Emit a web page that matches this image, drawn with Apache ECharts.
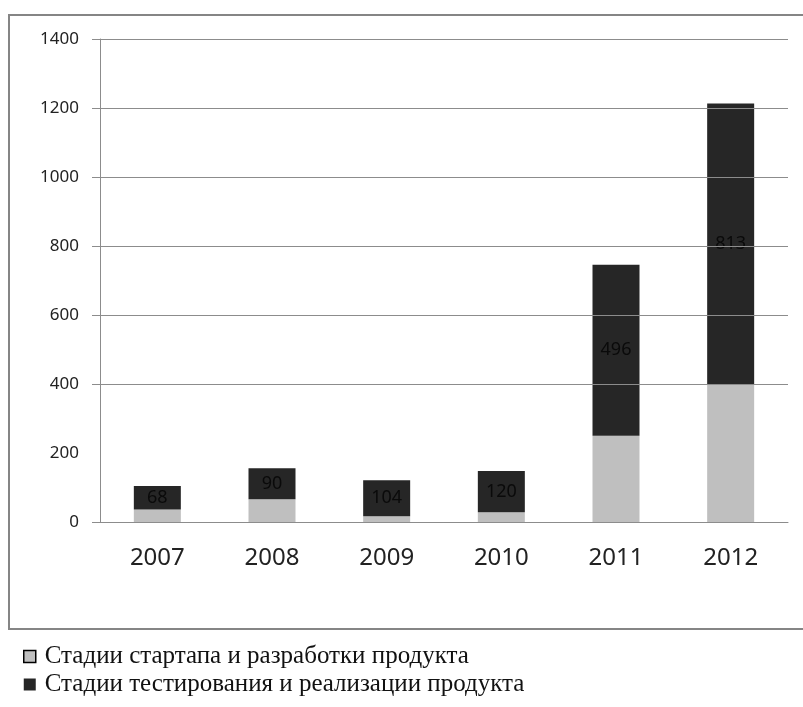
<!DOCTYPE html>
<html>
<head>
<meta charset="utf-8">
<script src="https://cdn.jsdelivr.net/npm/echarts@6/dist/echarts.min.js"></script>
<style>
  html, body { margin: 0; padding: 0; background: #fff; }
  #chart { width: 803px; height: 707px; }
</style>
</head>
<body>
<div id="chart"></div>
<script>
// Years on the horizontal axis
const years = ['2007', '2008', '2009', '2010', '2011', '2012'];
// Startup and product development stages (light segment)
const startupStage = [36, 66, 17, 28, 250, 400];
// Testing and product sales stages (dark segment, labelled)
const testingStage = [68, 90, 104, 120, 496, 813];
// Horizontal gridlines and ticks drawn on the value axis
const gridValues = [400, 600, 800, 1000, 1200, 1400];
const tickValues = [0, 400, 600, 800, 1000, 1200, 1400];

const seriesNames = [
  'Стадии стартапа и разработки продукта',
  'Стадии тестирования и реализации продукта'
];

const chart = echarts.init(document.getElementById('chart'), null, { renderer: 'canvas' });

chart.setOption({
  backgroundColor: '#ffffff',
  animation: false,
  graphic: [{
    type: 'rect',
    shape: { x: 9, y: 15, width: 820, height: 614 },
    style: { fill: 'none', stroke: '#858585', lineWidth: 2 },
    silent: true
  }],
  grid: { left: 100, right: 15, top: 39, bottom: 185 },
  legend: {
    orient: 'vertical',
    left: 18,
    top: 639,
    itemWidth: 12,
    itemHeight: 12,
    itemGap: 3,
    selectedMode: false,
    textStyle: { fontFamily: 'Liberation Serif', fontSize: 25, color: '#111', padding: [0, 0, 0, 4] },
    data: [
      { name: seriesNames[0], icon: 'rect', itemStyle: { color: '#bfbfbf', borderColor: '#000', borderWidth: 1.5 } },
      { name: seriesNames[1], icon: 'rect', itemStyle: { color: '#262626' } }
    ]
  },
  xAxis: {
    type: 'category',
    data: years,
    axisLine: { show: true, lineStyle: { color: '#8c8c8c', width: 1 } },
    axisTick: { show: false },
    axisLabel: { fontFamily: 'Noto Sans', fontSize: 24, color: '#222', margin: 24 }
  },
  yAxis: {
    type: 'value',
    min: 0,
    max: 1400,
    interval: 200,
    axisLine: { show: true, lineStyle: { color: '#8c8c8c', width: 1 } },
    axisTick: { show: true, length: 8, customValues: tickValues, lineStyle: { color: '#8c8c8c' } },
    splitLine: { show: false },
    axisLabel: {
      fontFamily: 'Noto Sans',
      fontSize: 17,
      color: '#222',
      margin: 21,
      formatter: v => String(v)
    }
  },
  series: [
    {
      name: seriesNames[0],
      type: 'bar',
      stack: 'total',
      barWidth: 47,
      data: startupStage,
      itemStyle: { color: '#bfbfbf' },
      markLine: {
        silent: true,
        symbol: 'none',
        label: { show: false },
        lineStyle: { color: '#8c8c8c', width: 1, type: 'solid' },
        data: gridValues.map(v => ({ yAxis: v }))
      },
      z: 3
    },
    {
      name: seriesNames[1],
      type: 'bar',
      stack: 'total',
      barWidth: 47,
      data: testingStage,
      itemStyle: { color: '#262626' },
      label: {
        show: true,
        position: 'inside',
        fontFamily: 'Noto Sans',
        fontSize: 18,
        color: '#0a0a0a'
      },
      z: 3
    }
  ]
});
</script>
</body>
</html>
